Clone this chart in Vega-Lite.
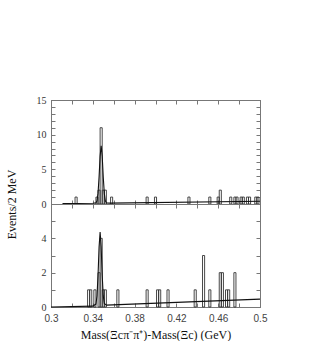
{
  "$schema": "https://vega.github.io/schema/vega-lite/v6.json",
  "autosize": {"type": "pad"},
  "padding": {"left": 4, "top": 94, "right": 5, "bottom": 5},
  "background": "white",
  "spacing": 0,
  "bounds": "flush",
  "config": {
    "view": {"stroke": "#777", "strokeWidth": 1},
    "axis": {"grid": false, "domainColor": "#777", "tickColor": "#777", "tickSize": -4, "labelColor": "#333", "titleColor": "#111", "titleFontWeight": "normal", "labelFlush": false}
  },
  "datasets": {
    "h1": [
      {"lo": 0.323, "hi": 0.325, "n": 1},
      {"lo": 0.343, "hi": 0.345, "n": 1},
      {"lo": 0.345, "hi": 0.347, "n": 2},
      {"lo": 0.347, "hi": 0.349, "n": 11},
      {"lo": 0.349, "hi": 0.351, "n": 2},
      {"lo": 0.351, "hi": 0.353, "n": 2},
      {"lo": 0.357, "hi": 0.359, "n": 1},
      {"lo": 0.391, "hi": 0.393, "n": 1},
      {"lo": 0.399, "hi": 0.401, "n": 1},
      {"lo": 0.431, "hi": 0.433, "n": 1},
      {"lo": 0.451, "hi": 0.453, "n": 1},
      {"lo": 0.459, "hi": 0.461, "n": 1},
      {"lo": 0.461, "hi": 0.463, "n": 2},
      {"lo": 0.471, "hi": 0.473, "n": 1},
      {"lo": 0.475, "hi": 0.477, "n": 1},
      {"lo": 0.477, "hi": 0.479, "n": 1},
      {"lo": 0.481, "hi": 0.483, "n": 1},
      {"lo": 0.483, "hi": 0.485, "n": 1},
      {"lo": 0.487, "hi": 0.489, "n": 1},
      {"lo": 0.489, "hi": 0.491, "n": 1},
      {"lo": 0.495, "hi": 0.497, "n": 1},
      {"lo": 0.497, "hi": 0.499, "n": 1}
    ],
    "h2": [
      {"lo": 0.335, "hi": 0.337, "n": 1},
      {"lo": 0.337, "hi": 0.339, "n": 1},
      {"lo": 0.341, "hi": 0.343, "n": 1},
      {"lo": 0.345, "hi": 0.347, "n": 2},
      {"lo": 0.347, "hi": 0.349, "n": 4},
      {"lo": 0.349, "hi": 0.351, "n": 1},
      {"lo": 0.351, "hi": 0.353, "n": 1},
      {"lo": 0.363, "hi": 0.365, "n": 1},
      {"lo": 0.391, "hi": 0.393, "n": 1},
      {"lo": 0.401, "hi": 0.403, "n": 1},
      {"lo": 0.403, "hi": 0.405, "n": 1},
      {"lo": 0.411, "hi": 0.413, "n": 1},
      {"lo": 0.437, "hi": 0.439, "n": 1},
      {"lo": 0.445, "hi": 0.447, "n": 3},
      {"lo": 0.451, "hi": 0.453, "n": 1},
      {"lo": 0.461, "hi": 0.463, "n": 2},
      {"lo": 0.463, "hi": 0.465, "n": 2},
      {"lo": 0.467, "hi": 0.469, "n": 1},
      {"lo": 0.469, "hi": 0.471, "n": 1},
      {"lo": 0.475, "hi": 0.477, "n": 2}
    ],
    "f1": [
      {"m": 0.311, "v": 0.05},
      {"m": 0.340, "v": 0.1},
      {"m": 0.343, "v": 0.16},
      {"m": 0.344, "v": 0.46},
      {"m": 0.345, "v": 1.53},
      {"m": 0.346, "v": 3.9},
      {"m": 0.347, "v": 6.9},
      {"m": 0.348, "v": 8.4},
      {"m": 0.349, "v": 6.9},
      {"m": 0.350, "v": 3.9},
      {"m": 0.351, "v": 1.53},
      {"m": 0.352, "v": 0.46},
      {"m": 0.353, "v": 0.16},
      {"m": 0.356, "v": 0.13},
      {"m": 0.5, "v": 0.4}
    ],
    "f2": [
      {"m": 0.300, "v": 0.0},
      {"m": 0.340, "v": 0.05},
      {"m": 0.343, "v": 0.17},
      {"m": 0.344, "v": 0.64},
      {"m": 0.345, "v": 1.82},
      {"m": 0.346, "v": 3.5},
      {"m": 0.347, "v": 4.36},
      {"m": 0.348, "v": 3.5},
      {"m": 0.349, "v": 1.83},
      {"m": 0.350, "v": 0.66},
      {"m": 0.351, "v": 0.2},
      {"m": 0.353, "v": 0.11},
      {"m": 0.5, "v": 0.46}
    ]
  },
  "vconcat": [
    {
      "width": 209,
      "height": 104,
      "resolve": {"axis": {"x": "independent", "y": "independent"}},
      "layer": [
        {
          "data": {"name": "h1"},
          "mark": {"type": "bar", "fill": "white", "fillOpacity": 0, "stroke": "#333", "strokeWidth": 0.9},
          "encoding": {
            "x": {"field": "lo", "type": "quantitative", "scale": {"domain": [0.3, 0.5], "nice": false},
              "axis": {"orient": "bottom", "values": [0.3,0.32,0.34,0.36,0.38,0.4,0.42,0.44,0.46,0.48,0.5], "labels": false, "title": null}},
            "x2": {"field": "hi"},
            "y": {"field": "n", "type": "quantitative", "scale": {"domain": [0, 15], "nice": false},
              "axis": {"orient": "left", "values": [0,1,2,3,4,5,6,7,8,9,10,11,12,13,14,15],
                "labelExpr": "datum.value % 5 == 0 ? datum.label : ''",
                "labelFont": "Liberation Serif", "labelFontSize": 10, "labelPadding": 9,
                "title": "Events/2 MeV", "titleFont": "Liberation Serif", "titleFontSize": 12,
                "titleY": 104, "titleX": -33, "titleAngle": -90, "titleBaseline": "bottom", "titleAlign": "center"}},
            "y2": {"datum": 0}
          }
        },
        {
          "data": {"name": "f1"},
          "mark": {"type": "line", "color": "#111", "strokeWidth": 1.1},
          "encoding": {
            "x": {"field": "m", "type": "quantitative", "scale": {"domain": [0.3, 0.5], "nice": false},
              "axis": {"orient": "top", "values": [0.3,0.32,0.34,0.36,0.38,0.4,0.42,0.44,0.46,0.48,0.5], "labels": false, "title": null}},
            "y": {"field": "v", "type": "quantitative", "scale": {"domain": [0, 15], "nice": false},
              "axis": {"orient": "right", "values": [0,1,2,3,4,5,6,7,8,9,10,11,12,13,14,15], "labels": false, "title": null}}
          }
        }
      ]
    },
    {
      "width": 209,
      "height": 103,
      "resolve": {"axis": {"x": "independent", "y": "independent"}},
      "layer": [
        {
          "data": {"name": "h2"},
          "mark": {"type": "bar", "fill": "white", "fillOpacity": 0, "stroke": "#333", "strokeWidth": 0.9},
          "encoding": {
            "x": {"field": "lo", "type": "quantitative", "scale": {"domain": [0.3, 0.5], "nice": false},
              "axis": {"orient": "bottom", "values": [0.3,0.32,0.34,0.36,0.38,0.4,0.42,0.44,0.46,0.48,0.5],
                "labelExpr": "(round(datum.value*100) - 30) % 4 == 2 ? '' : format(datum.value, '.2~f')",
                "labelFont": "Liberation Sans", "labelFontSize": 10, "labelPadding": 10, "labelColor": "#444",
                "title": "Mass(Ξcπ⁻π⁺)-Mass(Ξc) (GeV)", "titleFont": "Liberation Serif", "titleFontSize": 12, "titlePadding": 6}},
            "x2": {"field": "hi"},
            "y": {"field": "n", "type": "quantitative", "scale": {"domain": [0, 6], "nice": false},
              "axis": {"orient": "left", "values": [0,1,2,3,4,5,6],
                "labelExpr": "datum.value % 2 == 0 && datum.value < 6 ? datum.label : ''",
                "labelFont": "Liberation Serif", "labelFontSize": 10, "labelPadding": 9, "title": null}},
            "y2": {"datum": 0}
          }
        },
        {
          "data": {"name": "f2"},
          "mark": {"type": "line", "color": "#111", "strokeWidth": 1.1},
          "encoding": {
            "x": {"field": "m", "type": "quantitative", "scale": {"domain": [0.3, 0.5], "nice": false},
              "axis": {"orient": "top", "values": [0.3,0.32,0.34,0.36,0.38,0.4,0.42,0.44,0.46,0.48,0.5], "labels": false, "title": null}},
            "y": {"field": "v", "type": "quantitative", "scale": {"domain": [0, 6], "nice": false},
              "axis": {"orient": "right", "values": [0,1,2,3,4,5,6], "labels": false, "title": null}}
          }
        }
      ]
    }
  ]
}
